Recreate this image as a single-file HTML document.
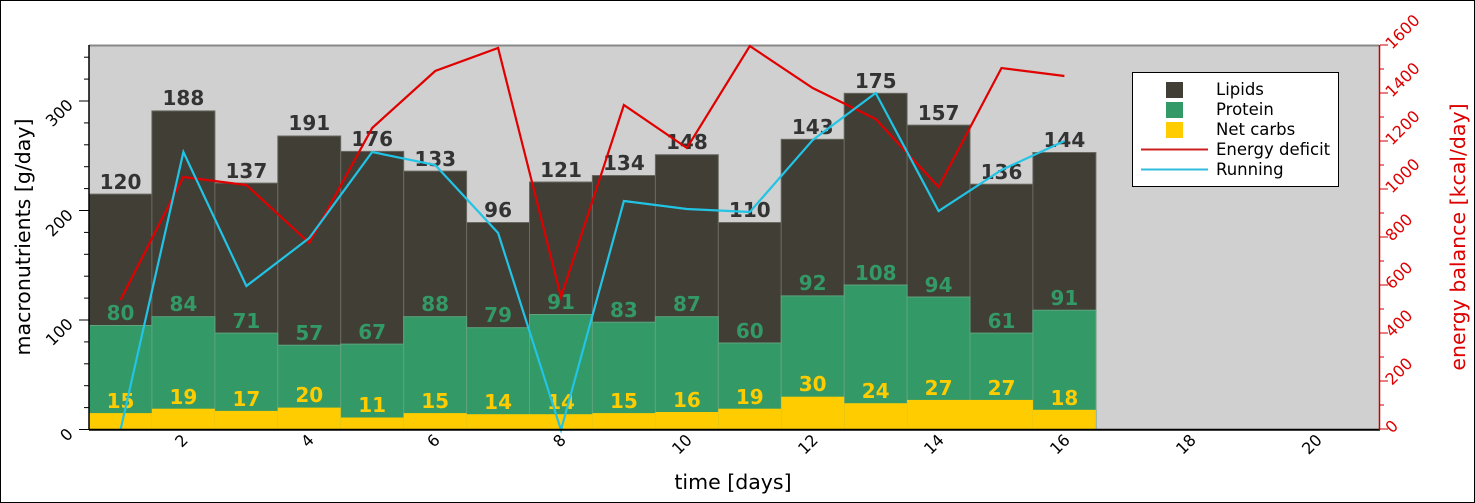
<!DOCTYPE html>
<html><head><meta charset="utf-8"><style>
html,body{margin:0;padding:0;background:#fff}
svg{display:block}
text{font-family:"DejaVu Sans","Liberation Sans",sans-serif}
</style></head><body>
<svg width="1475" height="503" viewBox="0 0 1475 503" xmlns="http://www.w3.org/2000/svg">
<rect x="0.5" y="0.5" width="1474" height="502" fill="#fff" stroke="#000"/>
<rect x="89" y="45.5" width="1290" height="384" fill="#d0d0d0"/>
<line x1="89" y1="45.5" x2="1379" y2="45.5" stroke="#888" stroke-width="2"/>
<g stroke="#6a6a62" stroke-width="1" fill="#403e35">
<rect x="89" y="194.1" width="62.9" height="235.4"/>
<rect x="151.9" y="110.9" width="63" height="318.6"/>
<rect x="214.9" y="183.1" width="62.9" height="246.4"/>
<rect x="277.8" y="136" width="62.9" height="293.5"/>
<rect x="340.7" y="151.4" width="63" height="278.1"/>
<rect x="403.7" y="171.1" width="62.9" height="258.4"/>
<rect x="466.6" y="222.5" width="62.9" height="207"/>
<rect x="529.5" y="182" width="62.9" height="247.5"/>
<rect x="592.4" y="175.5" width="63" height="254"/>
<rect x="655.4" y="154.7" width="62.9" height="274.8"/>
<rect x="718.3" y="222.5" width="62.9" height="207"/>
<rect x="781.2" y="139.3" width="63" height="290.2"/>
<rect x="844.2" y="93.3" width="62.9" height="336.2"/>
<rect x="907.1" y="125.1" width="62.9" height="304.4"/>
<rect x="970" y="184.2" width="62.9" height="245.3"/>
<rect x="1032.9" y="152.5" width="63" height="277"/>
</g>
<g stroke="#5fa37f" stroke-width="1" fill="#339966">
<rect x="89" y="325.5" width="62.9" height="104"/>
<rect x="151.9" y="316.7" width="63" height="112.8"/>
<rect x="214.9" y="333.1" width="62.9" height="96.4"/>
<rect x="277.8" y="345.2" width="62.9" height="84.3"/>
<rect x="340.7" y="344.1" width="63" height="85.4"/>
<rect x="403.7" y="316.7" width="62.9" height="112.8"/>
<rect x="466.6" y="327.7" width="62.9" height="101.8"/>
<rect x="529.5" y="314.5" width="62.9" height="115"/>
<rect x="592.4" y="322.2" width="63" height="107.3"/>
<rect x="655.4" y="316.7" width="62.9" height="112.8"/>
<rect x="718.3" y="343" width="62.9" height="86.5"/>
<rect x="781.2" y="295.9" width="63" height="133.6"/>
<rect x="844.2" y="285" width="62.9" height="144.5"/>
<rect x="907.1" y="297" width="62.9" height="132.5"/>
<rect x="970" y="333.1" width="62.9" height="96.4"/>
<rect x="1032.9" y="310.2" width="63" height="119.3"/>
</g>
<g fill="#ffcc00">
<rect x="89" y="413.1" width="62.9" height="16.4"/>
<rect x="151.9" y="408.7" width="63" height="20.8"/>
<rect x="214.9" y="410.9" width="62.9" height="18.6"/>
<rect x="277.8" y="407.6" width="62.9" height="21.9"/>
<rect x="340.7" y="417.5" width="63" height="12"/>
<rect x="403.7" y="413.1" width="62.9" height="16.4"/>
<rect x="466.6" y="414.2" width="62.9" height="15.3"/>
<rect x="529.5" y="414.2" width="62.9" height="15.3"/>
<rect x="592.4" y="413.1" width="63" height="16.4"/>
<rect x="655.4" y="412" width="62.9" height="17.5"/>
<rect x="718.3" y="408.7" width="62.9" height="20.8"/>
<rect x="781.2" y="396.7" width="63" height="32.8"/>
<rect x="844.2" y="403.2" width="62.9" height="26.3"/>
<rect x="907.1" y="399.9" width="62.9" height="29.6"/>
<rect x="970" y="399.9" width="62.9" height="29.6"/>
<rect x="1032.9" y="409.8" width="63" height="19.7"/>
</g>
<g font-size="20" font-weight="bold" text-anchor="middle">
<g fill="#333333">
<text x="120.5" y="189">120</text><text x="183.4" y="105">188</text><text x="246.4" y="178">137</text><text x="309.3" y="130">191</text><text x="372.2" y="146">176</text><text x="435.2" y="166">133</text><text x="498.1" y="217">96</text><text x="561" y="177">121</text><text x="623.9" y="170">134</text><text x="686.9" y="149">148</text><text x="749.8" y="217">110</text><text x="812.7" y="134">143</text><text x="875.7" y="88">175</text><text x="938.6" y="120">157</text><text x="1001.5" y="179">136</text><text x="1064.4" y="147">144</text>
</g>
<g fill="#339966">
<text x="120.5" y="320">80</text><text x="183.4" y="311">84</text><text x="246.4" y="328">71</text><text x="309.3" y="340">57</text><text x="372.2" y="339">67</text><text x="435.2" y="311">88</text><text x="498.1" y="322">79</text><text x="561" y="309">91</text><text x="623.9" y="317">83</text><text x="686.9" y="311">87</text><text x="749.8" y="338">60</text><text x="812.7" y="290">92</text><text x="875.7" y="280">108</text><text x="938.6" y="292">94</text><text x="1001.5" y="328">61</text><text x="1064.4" y="305">91</text>
</g>
<g fill="#ffcc00">
<text x="120.5" y="408">15</text><text x="183.4" y="404">19</text><text x="246.4" y="406">17</text><text x="309.3" y="402">20</text><text x="372.2" y="412">11</text><text x="435.2" y="408">15</text><text x="498.1" y="409">14</text><text x="561" y="409">14</text><text x="623.9" y="408">15</text><text x="686.9" y="407">16</text><text x="749.8" y="404">19</text><text x="812.7" y="391">30</text><text x="875.7" y="398">24</text><text x="938.6" y="395">27</text><text x="1001.5" y="395">27</text><text x="1064.4" y="405">18</text>
</g>
</g>
<polyline fill="none" stroke="#e00000" stroke-width="2.2" points="120.5,300 183.4,177 246.4,185 309.3,243 372.2,128 435.2,71 498.1,48 561,297 623.9,105 686.9,148 749.8,46 812.7,88 875.7,119 938.6,187 1001.5,68 1064.4,76"/>
<polyline fill="none" stroke="#22c4e6" stroke-width="2.2" points="120.5,430 183.4,152 246.4,286 309.3,238 372.2,152 435.2,165 498.1,233 561,430 623.9,201 686.9,209 749.8,212 812.7,140 875.7,93 938.6,211 1001.5,170 1064.4,141"/>
<!-- legend -->
<rect x="1132.5" y="72.5" width="206" height="114" fill="#fff" stroke="#000"/>
<rect x="1166" y="82" width="17" height="16" fill="#403e35"/>
<rect x="1166" y="102" width="17" height="16" fill="#339966"/>
<rect x="1166" y="122" width="17" height="16" fill="#ffcc00"/>
<line x1="1141" y1="149.5" x2="1208" y2="149.5" stroke="#cc2020" stroke-width="2"/>
<line x1="1141" y1="169.5" x2="1208" y2="169.5" stroke="#30bcdc" stroke-width="2"/>
<g font-size="16.5" fill="#000">
<text x="1216" y="95">Lipids</text><text x="1216" y="115">Protein</text><text x="1216" y="135">Net carbs</text><text x="1216" y="155">Energy deficit</text><text x="1216" y="175">Running</text>
</g>
<!-- axes -->
<line x1="89" y1="45" x2="89" y2="430" stroke="#000" stroke-width="1.5"/>
<line x1="89" y1="429.8" x2="1380" y2="429.8" stroke="#000" stroke-width="2"/>
<line x1="1379.5" y1="45" x2="1379.5" y2="430" stroke="#cc0000" stroke-width="1.5"/>
<g stroke="#000" stroke-width="1">
<line x1="79" y1="429.5" x2="89" y2="429.5"/><line x1="79" y1="320" x2="89" y2="320"/><line x1="79" y1="210.5" x2="89" y2="210.5"/><line x1="79" y1="101" x2="89" y2="101"/>
<line x1="84" y1="407.6" x2="89" y2="407.6"/><line x1="84" y1="385.7" x2="89" y2="385.7"/><line x1="84" y1="363.8" x2="89" y2="363.8"/><line x1="84" y1="341.9" x2="89" y2="341.9"/>
<line x1="84" y1="298.1" x2="89" y2="298.1"/><line x1="84" y1="276.2" x2="89" y2="276.2"/><line x1="84" y1="254.3" x2="89" y2="254.3"/><line x1="84" y1="232.4" x2="89" y2="232.4"/>
<line x1="84" y1="188.6" x2="89" y2="188.6"/><line x1="84" y1="166.7" x2="89" y2="166.7"/><line x1="84" y1="144.8" x2="89" y2="144.8"/><line x1="84" y1="122.9" x2="89" y2="122.9"/>
<line x1="84" y1="79.1" x2="89" y2="79.1"/><line x1="84" y1="57.2" x2="89" y2="57.2"/>
</g>
<g stroke="#cc0000" stroke-width="1">
<line x1="1380" y1="429" x2="1388" y2="429"/><line x1="1380" y1="381" x2="1388" y2="381"/><line x1="1380" y1="333" x2="1388" y2="333"/><line x1="1380" y1="285" x2="1388" y2="285"/><line x1="1380" y1="237" x2="1388" y2="237"/><line x1="1380" y1="189" x2="1388" y2="189"/><line x1="1380" y1="141" x2="1388" y2="141"/><line x1="1380" y1="93" x2="1388" y2="93"/><line x1="1380" y1="45" x2="1388" y2="45"/>
<line x1="1380" y1="405" x2="1384" y2="405"/><line x1="1380" y1="357" x2="1384" y2="357"/><line x1="1380" y1="309" x2="1384" y2="309"/><line x1="1380" y1="261" x2="1384" y2="261"/><line x1="1380" y1="213" x2="1384" y2="213"/><line x1="1380" y1="165" x2="1384" y2="165"/><line x1="1380" y1="117" x2="1384" y2="117"/><line x1="1380" y1="69" x2="1384" y2="69"/>
</g>
<g font-size="16" fill="#000" text-anchor="end">
<text transform="translate(74,435) rotate(-45)">0</text>
<text transform="translate(74,325) rotate(-45)">100</text>
<text transform="translate(74,216) rotate(-45)">200</text>
<text transform="translate(74,106) rotate(-45)">300</text>
</g>
<g font-size="16" fill="#000" text-anchor="end">
<text transform="translate(189,441) rotate(-45)">2</text>
<text transform="translate(315,441) rotate(-45)">4</text>
<text transform="translate(441,441) rotate(-45)">6</text>
<text transform="translate(567,441) rotate(-45)">8</text>
<text transform="translate(693,441) rotate(-45)">10</text>
<text transform="translate(819,441) rotate(-45)">12</text>
<text transform="translate(945,441) rotate(-45)">14</text>
<text transform="translate(1071,441) rotate(-45)">16</text>
<text transform="translate(1197,441) rotate(-45)">18</text>
<text transform="translate(1323,441) rotate(-45)">20</text>
</g>
<g font-size="16" fill="#dd0000" text-anchor="start">
<text transform="translate(1392,434) rotate(-45)">0</text>
<text transform="translate(1392,386) rotate(-45)">200</text>
<text transform="translate(1392,338) rotate(-45)">400</text>
<text transform="translate(1392,290) rotate(-45)">600</text>
<text transform="translate(1392,242) rotate(-45)">800</text>
<text transform="translate(1392,194) rotate(-45)">1000</text>
<text transform="translate(1392,146) rotate(-45)">1200</text>
<text transform="translate(1392,98) rotate(-45)">1400</text>
<text transform="translate(1392,50) rotate(-45)">1600</text>
</g>
<text x="733" y="489" font-size="20.5" text-anchor="middle" fill="#000">time [days]</text>
<text transform="translate(30,237) rotate(-90)" font-size="20.5" text-anchor="middle" fill="#000">macronutrients [g/day]</text>
<text transform="translate(1465,237) rotate(-90)" font-size="20.5" text-anchor="middle" fill="#dd0000">energy balance [kcal/day]</text>
</svg>
</body></html>
